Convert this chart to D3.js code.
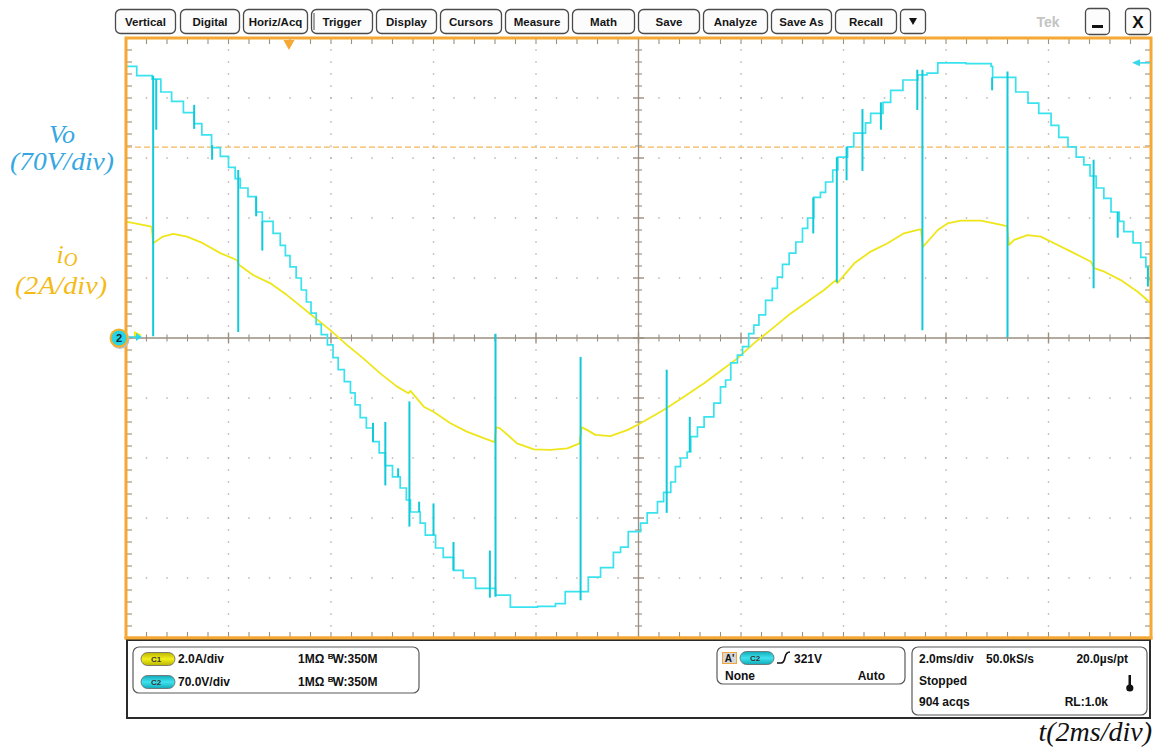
<!DOCTYPE html>
<html>
<head>
<meta charset="utf-8">
<script src="https://cdn.jsdelivr.net/npm/d3@7"></script>
<style>
  html, body { margin: 0; padding: 0; background: #ffffff; }
  svg { display: block; }
</style>
</head>
<body>
<svg id="scope" width="1158" height="749"></svg>
<script>
// ---------------- data ----------------
const menuItems = ["Vertical", "Digital", "Horiz/Acq", "Trigger", "Display", "Cursors",
                   "Measure", "Math", "Save", "Analyze", "Save As", "Recall"];

const timeDivs = 10;       // horizontal divisions
const levelDivs = 10;      // vertical divisions
const msPerDiv = 2;        // 2.0 ms/div
const voltsPerDiv = 70;    // CH2: 70.0 V/div
const ampsPerDiv = 2;      // CH1: 2.0 A/div

// CH2 (Vo) staircase: [time ms, volts] at every level change
const voSteps = [
  [0,317],[0.21,306],[0.51,302],[0.68,287],[0.89,276],[1.12,263],[1.33,250],[1.48,237],
  [1.67,222],[1.84,212],[2.00,199],[2.13,186],[2.23,175],[2.38,165],[2.54,147],[2.66,136],
  [2.87,122],[3.01,108],[3.11,96],[3.20,83],[3.32,70],[3.42,56],[3.52,42],[3.61,29],
  [3.71,16],[3.81,4],[3.93,-8],[4.04,-23],[4.14,-37],[4.26,-51],[4.38,-64],[4.47,-78],
  [4.57,-93],[4.69,-105],[4.82,-121],[4.94,-134],[5.06,-149],[5.20,-162],[5.35,-175],
  [5.47,-189],[5.55,-203],[5.74,-216],[5.84,-230],[6.04,-245],[6.19,-256],[6.39,-271],
  [6.58,-280],[6.82,-292],[7.21,-300],[7.50,-314],[8.03,-313],[8.38,-310],[8.57,-296],
  [9.02,-279],[9.26,-268],[9.51,-250],[9.65,-244],[9.80,-226],[10.04,-216],[10.17,-204],
  [10.37,-191],[10.49,-180],[10.63,-168],[10.72,-150],[10.82,-140],[10.95,-133],
  [11.02,-115],[11.15,-104],[11.28,-92],[11.47,-76],[11.60,-57],[11.70,-49],[11.80,-29],
  [11.93,-20],[12.03,-10],[12.15,5],[12.25,15],[12.35,27],[12.48,44],[12.61,58],
  [12.71,71],[12.81,86],[12.94,99],[13.07,112],[13.20,128],[13.30,140],[13.42,164],
  [13.55,170],[13.65,182],[13.79,196],[13.89,211],[14.08,223],[14.20,239],[14.43,251],
  [14.53,262],[14.77,275],[14.92,289],[15.16,301],[15.45,307],[15.63,309],[15.84,321],
  [16.39,320],[16.88,317],[16.91,304],[17.36,287],[17.60,274],[17.81,262],[18.05,248],
  [18.20,234],[18.38,223],[18.54,211],[18.69,202],[18.81,189],[18.93,175],[19.08,163],
  [19.22,147],[19.38,136],[19.47,124],[19.65,111],[19.80,94],[19.90,83],[19.94,68],[20,68]
];

// CH2 switching spikes: [time ms, from volts, to volts]
const voSpikes = [
  [0.53,306,2],[0.59,302,243],[1.33,272,244],[1.68,225,208],[2.19,196,7],[2.54,165,142],
  [2.66,136,102],[4.82,-99,-121],[5.06,-98,-172],[5.31,-152,-162],[5.53,-74,-220],
  [5.72,-191,-203],[6.00,-193,-230],[6.39,-238,-271],[7.10,-248,-303],[7.21,5,-302],
  [8.87,-22,-306],[10.55,-37,-204],[11.00,-92,-133],[13.41,164,122],[13.87,211,65],
  [14.06,223,184],[14.37,267,195],[14.73,275,243],[15.44,313,266],[15.54,313,9],
  [16.90,304,289],[17.20,311,1],[18.88,208,58],[19.35,147,117],[19.94,83,60]
];

// CH1 (io) load current: [time ms, amps]
const ioPoints = [
  [0,3.88],[0.50,3.71],[0.53,3.16],[0.72,3.38],[0.92,3.47],[1.19,3.38],[1.50,3.16],
  [1.84,2.83],[2.16,2.60],[2.21,2.43],[2.48,2.10],[2.81,1.83],[3.14,1.43],[3.33,1.17],
  [3.66,0.71],[3.98,0.27],[4.31,-0.23],[4.63,-0.68],[4.96,-1.18],[5.29,-1.62],[5.51,-1.84],
  [5.55,-1.76],[5.81,-2.29],[6.00,-2.46],[6.33,-2.84],[6.65,-3.12],[6.98,-3.34],
  [7.19,-3.47],[7.22,-2.97],[7.30,-3.01],[7.63,-3.51],[7.96,-3.71],[8.28,-3.73],
  [8.61,-3.68],[8.85,-3.51],[8.89,-2.97],[9.00,-3.07],[9.16,-3.23],[9.45,-3.27],
  [9.78,-3.07],[10.04,-2.84],[10.49,-2.40],[10.82,-2.03],[11.28,-1.51],[11.60,-1.10],
  [11.93,-0.68],[12.25,-0.18],[12.58,0.27],[12.97,0.82],[13.62,1.60],[13.85,1.93],
  [13.88,1.83],[14.21,2.49],[14.53,2.88],[14.86,3.16],[15.18,3.49],[15.51,3.63],
  [15.55,3.04],[15.84,3.60],[16.03,3.82],[16.29,3.91],[16.68,3.91],[16.94,3.82],
  [17.19,3.73],[17.23,3.10],[17.33,3.27],[17.59,3.43],[17.85,3.38],[18.11,3.16],
  [18.44,2.88],[18.83,2.54],[18.89,2.33],[19.09,2.21],[19.41,1.93],[19.74,1.54],[20,1.16]
];

const trigLevelV = 321;      // CH2 rising-edge trigger level
const trigTimeMs = 3.18;     // trigger position
const refLineDiv = 3.18;     // dashed reference line, in divisions

// ---------------- layout ----------------
const svg = d3.select("#scope");
const X0 = 126, X1 = 1151, Y0 = 38, Y1 = 638;
const ORANGE = "#f5a834";
const GRID = "#9a8f80";

const x = d3.scaleLinear().domain([0, timeDivs * msPerDiv]).range([X0, X1]);
const xDiv = d3.scaleLinear().domain([0, timeDivs]).range([X0, X1]);
const yDiv = d3.scaleLinear().domain([-levelDivs / 2, levelDivs / 2]).range([Y1, Y0]);
const yV = d3.scaleLinear().domain([-levelDivs / 2 * voltsPerDiv, levelDivs / 2 * voltsPerDiv]).range([Y1, Y0]);
const yI = d3.scaleLinear().domain([-levelDivs / 2 * ampsPerDiv, levelDivs / 2 * ampsPerDiv]).range([Y1, Y0]);

// ---------------- toolbar ----------------
const btnX = [115, 180, 243, 311, 376, 440, 505, 572, 638, 703, 771, 835];
const btnW = [60, 59, 64, 61, 60, 61, 63, 62, 61, 64, 60, 61];
const bar = svg.append("g").attr("class", "toolbar");
const uiFont = "'Liberation Sans', Arial, sans-serif";
menuItems.forEach((m, i) => {
  bar.append("rect").attr("x", btnX[i] + 0.5).attr("y", 9.5).attr("width", btnW[i]).attr("height", 24)
    .attr("rx", 5).attr("fill", "#fcfcfc").attr("stroke", "#4a4a4a").attr("stroke-width", 1.3);
  bar.append("text").attr("x", btnX[i] + btnW[i] / 2 + 0.5).attr("y", 26)
    .attr("text-anchor", "middle").attr("font-family", uiFont).attr("font-weight", "bold")
    .attr("font-size", 11.5).attr("fill", "#151515").text(m);
});
// extra inner edge on the Trigger button
bar.append("line").attr("x1", 314).attr("x2", 314).attr("y1", 13).attr("y2", 30)
  .attr("stroke", "#4a4a4a").attr("stroke-width", 1);
// dropdown arrow button
bar.append("rect").attr("x", 900.5).attr("y", 9.5).attr("width", 25).attr("height", 24)
  .attr("rx", 4).attr("fill", "#fcfcfc").attr("stroke", "#4a4a4a").attr("stroke-width", 1.3);
bar.append("path").attr("d", "M909,18 L917,18 L913,25 Z").attr("fill", "#111");
// brand + window buttons
bar.append("text").attr("x", 1048).attr("y", 27).attr("text-anchor", "middle")
  .attr("font-family", uiFont).attr("font-weight", "bold").attr("font-size", 14)
  .attr("fill", "#c4c4c4").text("Tek");
bar.append("rect").attr("x", 1085.5).attr("y", 8.5).attr("width", 24).attr("height", 26)
  .attr("rx", 4).attr("fill", "#fcfcfc").attr("stroke", "#4a4a4a").attr("stroke-width", 1.3);
bar.append("rect").attr("x", 1092).attr("y", 25).attr("width", 11).attr("height", 3).attr("fill", "#111");
bar.append("rect").attr("x", 1125.5).attr("y", 8.5).attr("width", 25).attr("height", 26)
  .attr("rx", 4).attr("fill", "#fcfcfc").attr("stroke", "#4a4a4a").attr("stroke-width", 1.3);
bar.append("text").attr("x", 1138).attr("y", 28).attr("text-anchor", "middle")
  .attr("font-family", uiFont).attr("font-weight", "bold").attr("font-size", 17)
  .attr("fill", "#111").text("X");

// ---------------- graticule ----------------
const grid = svg.append("g").attr("class", "graticule");
const minor = d3.range(1, timeDivs * 5);          // 0.2-division steps
// dotted division lines
d3.range(1, timeDivs).filter(k => k !== timeDivs / 2).forEach(k => {
  minor.forEach(j => {
    grid.append("rect").attr("x", xDiv(k) - 0.7).attr("y", yDiv(-levelDivs / 2 + j * 0.2) - 0.7)
      .attr("width", 1.4).attr("height", 1.4).attr("fill", "#b3aa9c");
  });
});
d3.range(1, levelDivs).filter(k => k !== levelDivs / 2).forEach(k => {
  minor.forEach(j => {
    grid.append("rect").attr("x", xDiv(j * 0.2) - 0.7).attr("y", yDiv(k - levelDivs / 2) - 0.7)
      .attr("width", 1.4).attr("height", 1.4).attr("fill", "#b3aa9c");
  });
});
// centre cross with ticks
grid.append("line").attr("x1", X0).attr("x2", X1).attr("y1", yDiv(0)).attr("y2", yDiv(0))
  .attr("stroke", GRID).attr("stroke-width", 1.3);
grid.append("line").attr("x1", xDiv(timeDivs / 2)).attr("x2", xDiv(timeDivs / 2)).attr("y1", Y0).attr("y2", Y1)
  .attr("stroke", GRID).attr("stroke-width", 1.3);
minor.forEach(j => {
  const major = j % 5 === 0, h = major ? 5.5 : 3.5;
  grid.append("line").attr("x1", xDiv(j * 0.2)).attr("x2", xDiv(j * 0.2))
    .attr("y1", yDiv(0) - h).attr("y2", yDiv(0) + h).attr("stroke", GRID).attr("stroke-width", major ? 1.4 : 1.1);
  grid.append("line").attr("y1", yDiv(-levelDivs / 2 + j * 0.2)).attr("y2", yDiv(-levelDivs / 2 + j * 0.2))
    .attr("x1", xDiv(timeDivs / 2) - h).attr("x2", xDiv(timeDivs / 2) + h).attr("stroke", GRID).attr("stroke-width", major ? 1.4 : 1.1);
  // edge ticks
  grid.append("line").attr("x1", xDiv(j * 0.2)).attr("x2", xDiv(j * 0.2)).attr("y1", Y0).attr("y2", Y0 + 6)
    .attr("stroke", GRID).attr("stroke-width", 1.1);
  grid.append("line").attr("x1", xDiv(j * 0.2)).attr("x2", xDiv(j * 0.2)).attr("y1", Y1 - 6).attr("y2", Y1)
    .attr("stroke", GRID).attr("stroke-width", 1.1);
  grid.append("line").attr("y1", yDiv(-levelDivs / 2 + j * 0.2)).attr("y2", yDiv(-levelDivs / 2 + j * 0.2))
    .attr("x1", X0).attr("x2", X0 + 6).attr("stroke", GRID).attr("stroke-width", 1.1);
  grid.append("line").attr("y1", yDiv(-levelDivs / 2 + j * 0.2)).attr("y2", yDiv(-levelDivs / 2 + j * 0.2))
    .attr("x1", X1 - 6).attr("x2", X1).attr("stroke", GRID).attr("stroke-width", 1.1);
});

// dashed reference line
grid.append("line").attr("x1", X0).attr("x2", X1).attr("y1", yDiv(refLineDiv)).attr("y2", yDiv(refLineDiv))
  .attr("stroke", "#f6b65c").attr("stroke-width", 1.3).attr("stroke-dasharray", "6,3");

// ---------------- traces ----------------
svg.append("clipPath").attr("id", "plotClip").append("rect")
  .attr("x", X0).attr("y", Y0).attr("width", X1 - X0).attr("height", Y1 - Y0);
const traces = svg.append("g").attr("clip-path", "url(#plotClip)");

const ioLine = d3.line().x(d => x(d[0])).y(d => yI(d[1]));
traces.append("path").datum(ioPoints).attr("d", ioLine)
  .attr("fill", "none").attr("stroke", "#eee61a").attr("stroke-width", 1.8).attr("stroke-linejoin", "round");

const voLine = d3.line().x(d => x(d[0])).y(d => yV(d[1])).curve(d3.curveStepAfter);
traces.append("path").datum(voSteps).attr("d", voLine)
  .attr("fill", "none").attr("stroke", "#38e2ee").attr("stroke-width", 1.7);
traces.selectAll("line.spike").data(voSpikes).join("line").attr("class", "spike")
  .attr("x1", d => x(d[0])).attr("x2", d => x(d[0]))
  .attr("y1", d => yV(d[1])).attr("y2", d => yV(d[2]))
  .attr("stroke", "#12c9d9").attr("stroke-width", 2);

// ---------------- frame and markers ----------------
svg.append("rect").attr("x", X0).attr("y", Y0).attr("width", X1 - X0).attr("height", Y1 - Y0)
  .attr("fill", "none").attr("stroke", ORANGE).attr("stroke-width", 3);

// trigger position
const tx = x(trigTimeMs);
svg.append("path").attr("d", `M${tx - 5.5},40 L${tx + 5.5},40 L${tx},50 Z`).attr("fill", ORANGE);

// trigger level arrow (right edge)
const ty = yV(trigLevelV);
svg.append("line").attr("x1", 1139).attr("x2", 1150).attr("y1", ty).attr("y2", ty)
  .attr("stroke", "#38d8ea").attr("stroke-width", 1.6);
svg.append("path").attr("d", `M1132,${ty} L1140,${ty - 3.5} L1140,${ty + 3.5} Z`).attr("fill", "#38d8ea");

// channel ground markers
const gy = yV(0);
svg.append("path").attr("d", `M134,${gy - 7} L142,${gy - 3} L134,${gy} Z`).attr("fill", "#f2ea10");
svg.append("line").attr("x1", 126).attr("x2", 137).attr("y1", gy - 1).attr("y2", gy - 1)
  .attr("stroke", "#2fd6ea").attr("stroke-width", 1.6);
svg.append("path").attr("d", `M136,${gy - 5} L142,${gy - 1} L136,${gy + 3} Z`).attr("fill", "#2fd6ea");
svg.append("circle").attr("cx", 120).attr("cy", gy + 1.5).attr("r", 9.5).attr("fill", "#bdbdbd");
svg.append("circle").attr("cx", 119).attr("cy", gy).attr("r", 9.5).attr("fill", "#f3b028");
svg.append("circle").attr("cx", 119).attr("cy", gy).attr("r", 7.5).attr("fill", "#27d3e6");
svg.append("text").attr("x", 119).attr("y", gy + 4).attr("text-anchor", "middle")
  .attr("font-family", uiFont).attr("font-weight", "bold").attr("font-size", 11).attr("fill", "#0d2a33").text("2");

// ---------------- channel labels ----------------
const serif = "'Liberation Serif', 'Times New Roman', serif";
const lab = svg.append("g").attr("font-family", serif).attr("font-style", "italic").attr("font-size", 25);
lab.append("text").attr("x", 62).attr("y", 143).attr("text-anchor", "middle").attr("fill", "#36a7e2")
  .attr("font-size", 26).text("Vo");
lab.append("text").attr("x", 62).attr("y", 170).attr("text-anchor", "middle").attr("fill", "#36a7e2")
  .attr("textLength", 104).attr("lengthAdjust", "spacingAndGlyphs").text("(70V/div)");
const ioLab = lab.append("text").attr("x", 67).attr("y", 263).attr("text-anchor", "middle").attr("fill", "#f4bb17")
  .attr("font-size", 26);
ioLab.append("tspan").text("i");
ioLab.append("tspan").attr("font-size", 19).attr("dy", 3).text("O");
lab.append("text").attr("x", 61).attr("y", 294).attr("text-anchor", "middle").attr("fill", "#f4bb17")
  .attr("textLength", 92).attr("lengthAdjust", "spacingAndGlyphs").text("(2A/div)");
lab.append("text").attr("x", 1152).attr("y", 741).attr("text-anchor", "end").attr("fill", "#111")
  .attr("font-size", 28).text("t(2ms/div)");

// ---------------- status panel ----------------
const panel = svg.append("g").attr("font-family", uiFont).attr("font-weight", "bold").attr("font-size", 12).attr("fill", "#111");
panel.append("rect").attr("x", 127).attr("y", 640).attr("width", 1023).attr("height", 78)
  .attr("fill", "#fff").attr("stroke", "#2a2a2a").attr("stroke-width", 2);
// repaint the frame bottom edge over the panel top
svg.append("line").attr("x1", X0 - 1.5).attr("x2", X1 + 1.5).attr("y1", Y1).attr("y2", Y1)
  .attr("stroke", ORANGE).attr("stroke-width", 3);

const boxStyle = sel => sel.attr("fill", "#fff").attr("stroke", "#5a5a5a").attr("stroke-width", 1.2).attr("rx", 6);
boxStyle(panel.append("rect").attr("x", 133).attr("y", 647).attr("width", 286).attr("height", 46));
boxStyle(panel.append("rect").attr("x", 717).attr("y", 647).attr("width", 188).attr("height", 37));
boxStyle(panel.append("rect").attr("x", 912).attr("y", 647).attr("width", 235).attr("height", 68));

const defs = svg.append("defs");
function pillGrad(id, c0, c1) {
  const g = defs.append("linearGradient").attr("id", id).attr("x1", 0).attr("y1", 0).attr("x2", 0).attr("y2", 1);
  g.append("stop").attr("offset", "0%").attr("stop-color", c0);
  g.append("stop").attr("offset", "50%").attr("stop-color", c1);
  g.append("stop").attr("offset", "100%").attr("stop-color", c0);
}
pillGrad("pillY", "#b9b400", "#f4ef1c");
pillGrad("pillC", "#12a9b7", "#3fe3ef");
function pill(cx, cy, grad, label) {
  panel.append("rect").attr("x", cx - 17).attr("y", cy - 6.5).attr("width", 34).attr("height", 13)
    .attr("rx", 6.5).attr("fill", `url(#${grad})`).attr("stroke", "#666").attr("stroke-width", 0.8);
  panel.append("text").attr("x", cx - 2).attr("y", cy + 3).attr("text-anchor", "middle")
    .attr("font-size", 8).attr("fill", "#333").text(label);
}
pill(158, 659, "pillY", "C1");
pill(158, 682, "pillC", "C2");
panel.append("text").attr("x", 178).attr("y", 663).text("2.0A/div");
panel.append("text").attr("x", 178).attr("y", 686).text("70.0V/div");
function bwText(yy) {
  const t = panel.append("text").attr("x", 298).attr("y", yy);
  t.append("tspan").text("1MΩ ");
  t.append("tspan").attr("font-size", 8).attr("dy", -4).text("B");
  t.append("tspan").attr("dy", 4).attr("dx", -1).text("W");
  t.append("tspan").text(":350M");
}
bwText(663);
bwText(686);

// trigger readout
panel.append("rect").attr("x", 722.5).attr("y", 652.5).attr("width", 14).attr("height", 11)
  .attr("fill", "#d6d6d6").attr("stroke", "#f0a640").attr("stroke-width", 1);
panel.append("text").attr("x", 729.5).attr("y", 662).attr("text-anchor", "middle").attr("font-size", 10).text("A'");
pill(757, 658, "pillC", "C2");
panel.append("path").attr("d", "M777,663 L781,663 Q784,663 785,657.5 Q786,652 790,652")
  .attr("fill", "none").attr("stroke", "#111").attr("stroke-width", 1.6);
panel.append("text").attr("x", 794).attr("y", 663).text(`${trigLevelV}V`);
panel.append("text").attr("x", 725).attr("y", 680).text("None");
panel.append("text").attr("x", 885).attr("y", 680).attr("text-anchor", "end").text("Auto");

// acquisition readout
panel.append("text").attr("x", 919).attr("y", 663).text(`${msPerDiv.toFixed(1)}ms/div`);
panel.append("text").attr("x", 986).attr("y", 663).text("50.0kS/s");
panel.append("text").attr("x", 1128).attr("y", 663).attr("text-anchor", "end").text("20.0µs/pt");
panel.append("text").attr("x", 919).attr("y", 685).text("Stopped");
panel.append("text").attr("x", 919).attr("y", 706).text("904 acqs");
panel.append("text").attr("x", 1108).attr("y", 706).attr("text-anchor", "end").text("RL:1.0k");
panel.append("rect").attr("x", 1128.5).attr("y", 675).attr("width", 2.5).attr("height", 12).attr("fill", "#111");
panel.append("circle").attr("cx", 1129.8).attr("cy", 688).attr("r", 3.6).attr("fill", "#111");
</script>
</body>
</html>
